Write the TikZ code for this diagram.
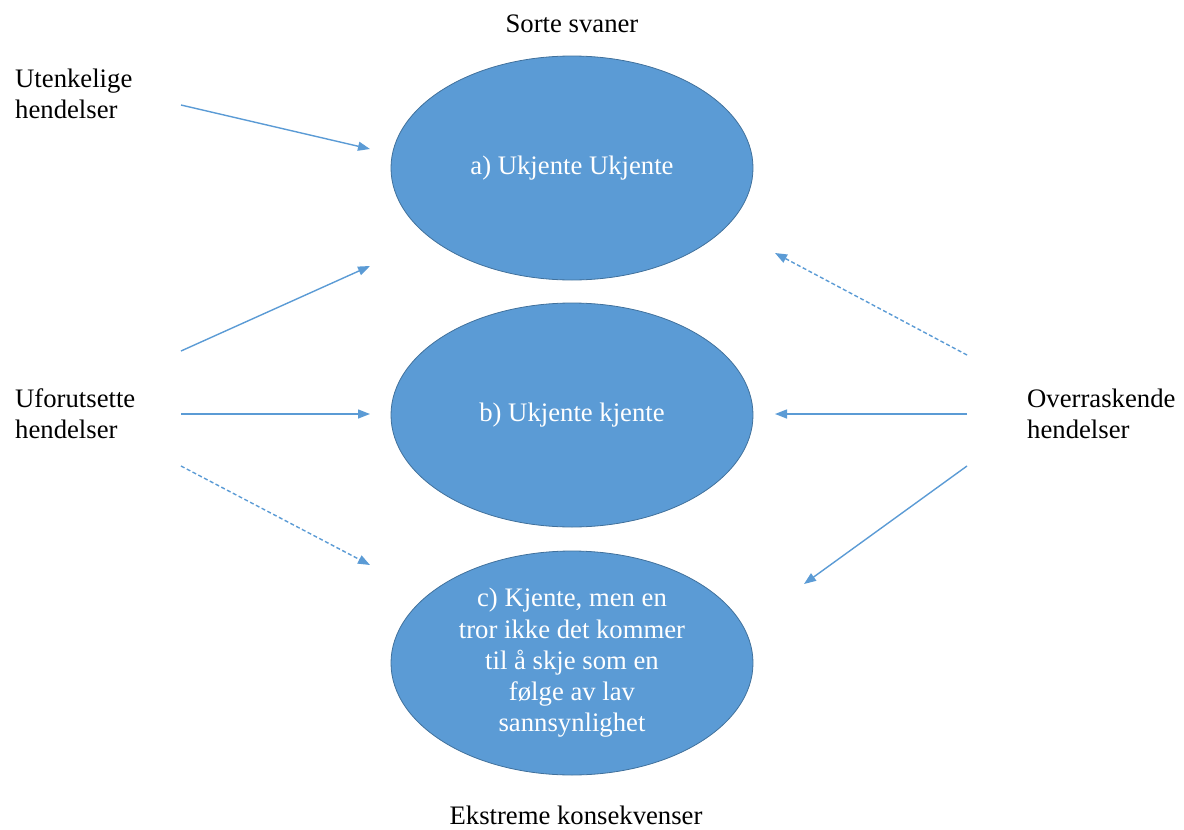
\documentclass[tikz,border=0pt]{standalone}
\usepackage{fontspec}
\setmainfont{Liberation Serif}
\usetikzlibrary{shapes.geometric,arrows.meta}
\definecolor{ofblue}{HTML}{5B9BD5}
\definecolor{ofedge}{HTML}{41719C}
\tikzset{
  oval/.style={ellipse, draw=ofedge, line width=0.8pt, fill=ofblue, text=white,
    minimum width=362pt, minimum height=224pt, inner sep=0pt, align=center,
    font=\fontsize{26.7}{31.3}\selectfont},
  lbl/.style={inner sep=0pt, align=left, font=\fontsize{26.7}{31}\selectfont, text=black},
  conn/.style={draw=ofblue, line width=1.4pt, -{Triangle[length=12pt,width=9pt]}},
  dconn/.style={conn, dash pattern=on 4pt off 2.5pt}
}
\begin{document}
\begin{tikzpicture}[x=1pt,y=-1pt]
\useasboundingbox (0,0) rectangle (1184,830);
\node[oval] (a) at (572,168) {a) Ukjente Ukjente};
\node[oval] (b) at (572,415) {b) Ukjente kjente};
\node[oval] (c) at (572,663) {c) Kjente, men en\\tror ikke det kommer\\til å skje som en\\følge av lav\\sannsynlighet};

\node[lbl, anchor=base] (top) at (572,32) {Sorte svaner};
\node[lbl, anchor=base] (bot) at (576,824) {Ekstreme konsekvenser};
\node[lbl, anchor=base west] (ute) at (15,118) {Utenkelige\\hendelser};
\node[lbl, anchor=base west] (ufo) at (15,438) {Uforutsette\\hendelser};
\node[lbl, anchor=base west] (ove) at (1027,438) {Overraskende\\hendelser};

\coordinate (s1) at (181,105); \coordinate (e1) at (370,149);
\coordinate (s2) at (181,351); \coordinate (e2) at (370,266);
\coordinate (s3) at (181,414); \coordinate (e3) at (370,414);
\coordinate (s4) at (181,466); \coordinate (e4) at (370,565);
\coordinate (s5) at (967,355); \coordinate (e5) at (775,253);
\coordinate (s6) at (967,414); \coordinate (e6) at (775,414);
\coordinate (s7) at (967,466); \coordinate (e7) at (804,584);

\draw[conn] (s1) -- (e1);
\draw[conn] (s2) -- (e2);
\draw[conn] (s3) -- (e3);
\draw[dconn] (s4) -- (e4);
\draw[dconn] (s5) -- (e5);
\draw[conn] (s6) -- (e6);
\draw[conn] (s7) -- (e7);
\end{tikzpicture}
\end{document}
